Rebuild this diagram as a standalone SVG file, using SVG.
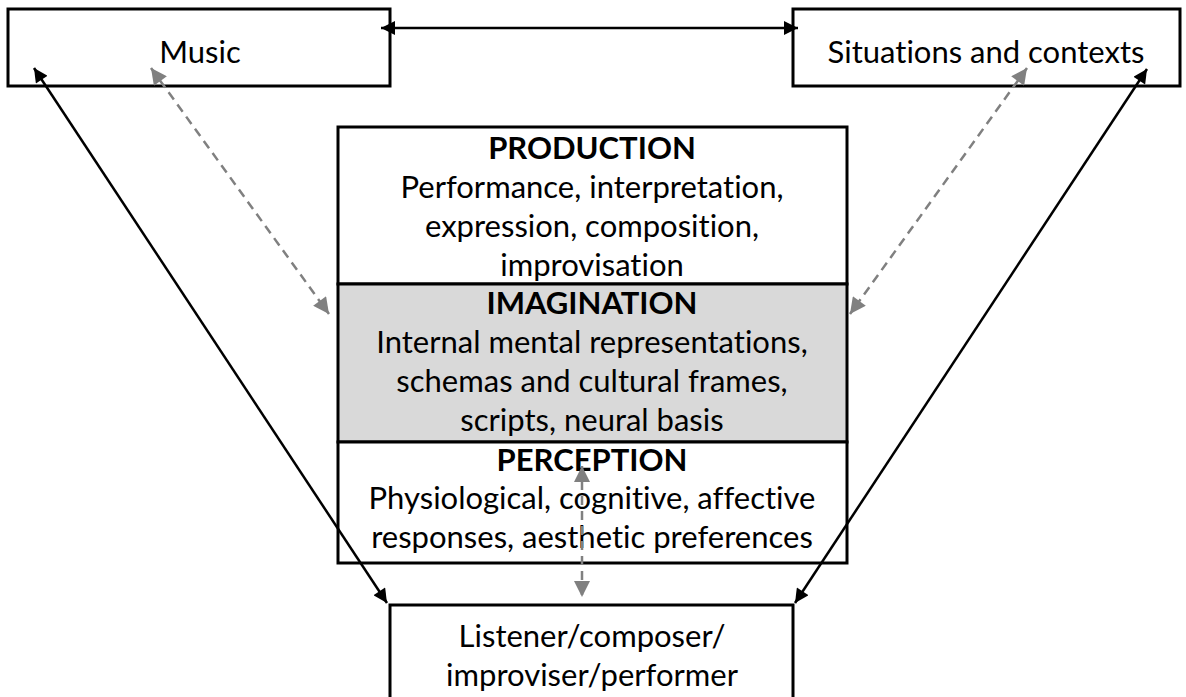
<svg xmlns="http://www.w3.org/2000/svg" width="1186" height="697" viewBox="0 0 1186 697">
  <style>
    .box { fill: #ffffff; stroke: #000000; stroke-width: 3; }
    .shaded { fill: #d9d9d9; stroke: #000000; stroke-width: 3; }
    .txt { font-family: Lato, "Liberation Sans", sans-serif; font-size: 31px; fill: #000000; text-anchor: middle; font-variant-ligatures: none; font-feature-settings: "liga" 0; }
    .bold { font-weight: bold; }
    .solid { stroke: #000000; stroke-width: 2.5; fill: none; marker-start: url(#headBlack); marker-end: url(#headBlack); }
    .dashed { stroke: #808080; stroke-width: 2.5; fill: none; stroke-dasharray: 9 6; marker-start: url(#headGray); marker-end: url(#headGray); }
  </style>
  <defs>
    <marker id="headBlack" viewBox="0 0 10 10" refX="10" refY="5" markerUnits="userSpaceOnUse" markerWidth="17" markerHeight="14" orient="auto-start-reverse">
      <path d="M0,0 L10,5 L0,10 z" fill="#000000"/>
    </marker>
    <marker id="headGray" viewBox="0 0 10 10" refX="10" refY="5" markerUnits="userSpaceOnUse" markerWidth="18" markerHeight="16" orient="auto-start-reverse">
      <path d="M0,0 L10,5 L0,10 z" fill="#808080"/>
    </marker>
  </defs>

  <rect width="1186" height="697" fill="#ffffff"/>

  <!-- top boxes -->
  <g id="music">
    <rect class="box" x="8" y="9" width="382" height="77"/>
    <text class="txt" x="200" y="63">Music</text>
  </g>
  <g id="situations">
    <rect class="box" x="793" y="9" width="387" height="77"/>
    <text class="txt" x="986" y="63">Situations and contexts</text>
  </g>

  <!-- central stack -->
  <g id="production">
    <rect class="box" x="338" y="127" width="509" height="157"/>
    <text class="txt bold" x="592" y="159">PRODUCTION</text>
    <text class="txt" x="592" y="198">Performance, interpretation,</text>
    <text class="txt" x="592" y="237">expression, composition,</text>
    <text class="txt" x="592" y="276">improvisation</text>
  </g>
  <g id="imagination">
    <rect class="shaded" x="338" y="284" width="509" height="158"/>
    <text class="txt bold" x="592" y="314">IMAGINATION</text>
    <text class="txt" x="592" y="353">Internal mental representations,</text>
    <text class="txt" x="592" y="392">schemas and cultural frames,</text>
    <text class="txt" x="592" y="431">scripts, neural basis</text>
  </g>
  <g id="perception">
    <rect class="box" x="338" y="442" width="509" height="121"/>
    <text class="txt bold" x="592" y="471">PERCEPTION</text>
    <text class="txt" x="592" y="509">Physiological, cognitive, affective</text>
    <text class="txt" x="592" y="548">responses, aesthetic preferences</text>
  </g>

  <!-- bottom box -->
  <g id="listener">
    <rect class="box" x="390" y="605" width="403" height="110"/>
    <text class="txt" x="592" y="647">Listener/composer/</text>
    <text class="txt" x="592" y="686">improviser/performer</text>
  </g>

  <!-- connectors -->
  <g id="connectors">
    <line class="solid" x1="381" y1="28" x2="798" y2="28"/>
    <line class="solid" x1="34" y1="68" x2="387" y2="603"/>
    <line class="solid" x1="1147" y1="69" x2="795" y2="603"/>
    <line class="dashed" x1="151" y1="68" x2="329" y2="314"/>
    <line class="dashed" x1="1027" y1="68" x2="850" y2="314"/>
    <line class="dashed" x1="582" y1="466" x2="582" y2="597"/>
  </g>
</svg>
